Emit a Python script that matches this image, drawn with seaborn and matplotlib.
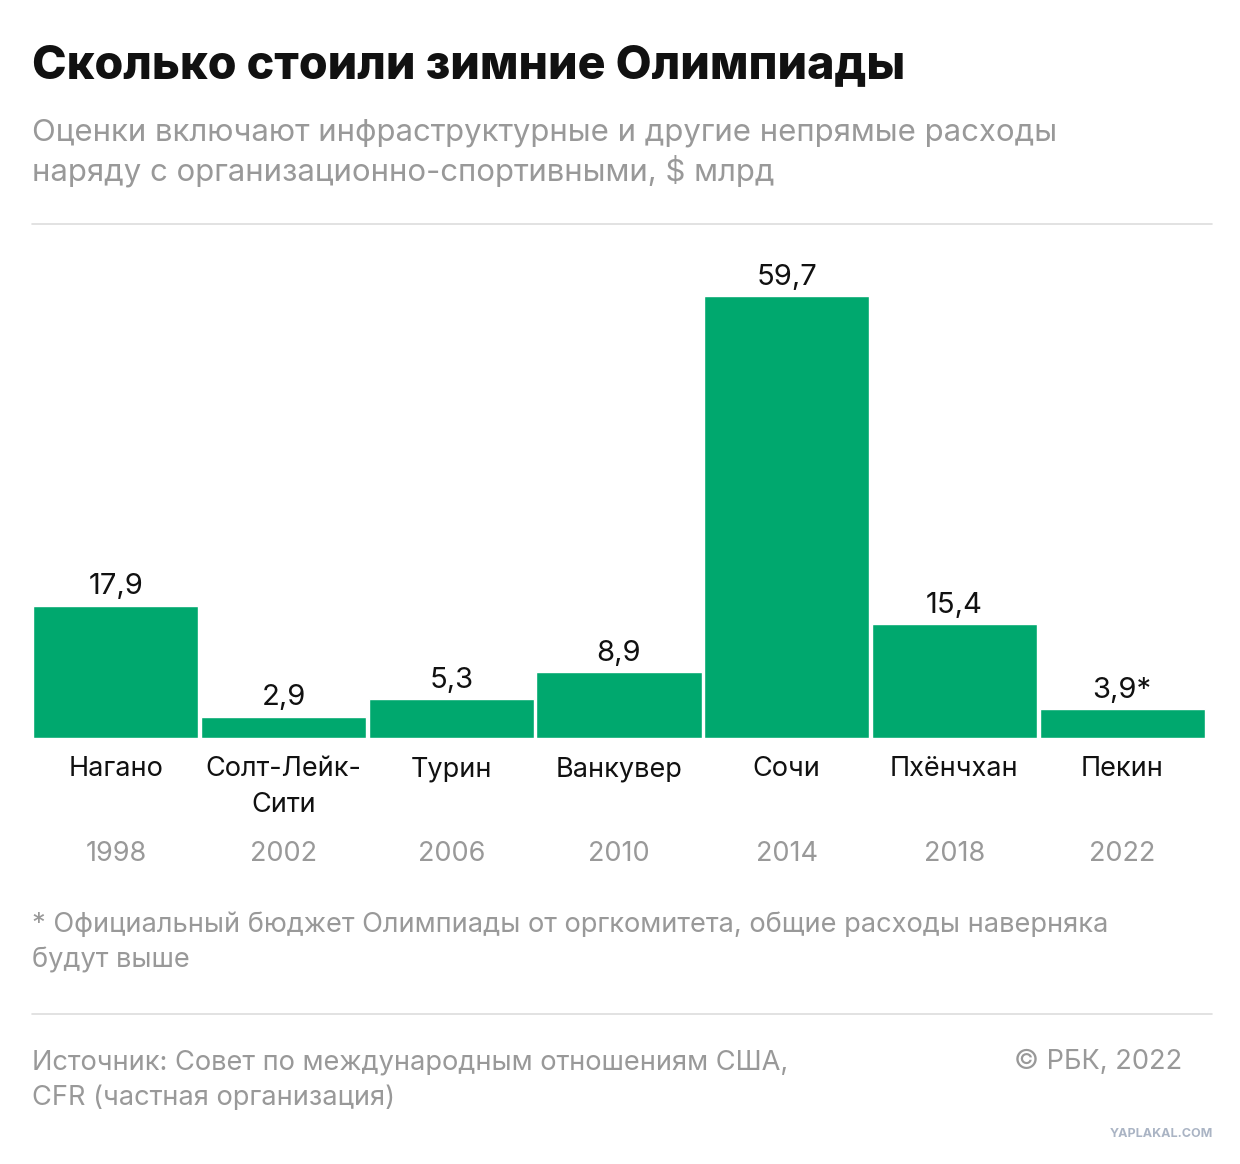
import matplotlib
matplotlib.use("Agg")
import matplotlib.pyplot as plt
import seaborn as sns
import pandas as pd
from matplotlib.lines import Line2D
import matplotlib.transforms as mtrans

cities = ["Нагано", "Солт-Лейк-\nСити", "Турин", "Ванкувер", "Сочи", "Пхёнчхан", "Пекин"]
years = ["1998", "2002", "2006", "2010", "2014", "2018", "2022"]
values = [17.9, 2.9, 5.3, 8.9, 59.7, 15.4, 3.9]
value_labels = ["17,9", "2,9", "5,3", "8,9", "59,7", "15,4", "3,9*"]

sns.set_theme(style="white")
plt.rcParams['font.family'] = ['Inter', 'DejaVu Sans']

W, H = 1240, 1164
fig = plt.figure(figsize=(W/100, H/100), dpi=100)
def fx(x): return x / W
def fy(y): return 1 - y / H

ax = fig.add_axes([fx(32), fy(738), fx(1206) - fx(32), fy(257) - fy(738)])
df = pd.DataFrame({"city": cities, "value": values})
sns.barplot(data=df, x="city", y="value", color="#00A86E", saturation=1, width=0.985, ax=ax)
ax.set_ylim(0, 65)
ax.set_xlim(-0.5, len(cities) - 0.5)
ax.axis("off")

for i, (v, lab) in enumerate(zip(values, value_labels)):
    ax.text(i, v + 0.7, lab, ha="center", va="bottom", fontsize=21, color="#111111")

tr = mtrans.blended_transform_factory(ax.transData, fig.transFigure)
for i, (c, y) in enumerate(zip(cities, years)):
    ax.text(i, fy(756), c, ha="center", va="top", fontsize=19.5, color="#111111",
            transform=tr, linespacing=1.5)
    ax.text(i, fy(854), y, ha="center", va="center", fontsize=19.5, color="#999999", transform=tr)

fig.text(fx(32), fy(66), "Сколько стоили зимние Олимпиады", fontsize=33.5, fontweight="heavy",
         color="#111111", va="center")
fig.text(fx(32), fy(153), "Оценки включают инфраструктурные и другие непрямые расходы\nнаряду с организационно-спортивными, $ млрд",
         fontsize=22.4, color="#999999", va="center", linespacing=1.3)
fig.text(fx(32), fy(943), "* Официальный бюджет Олимпиады от оргкомитета, общие расходы наверняка\nбудут выше",
         fontsize=19.6, color="#999999", va="center", linespacing=1.45)
fig.text(fx(32), fy(1080), "Источник: Совет по международным отношениям США,\nCFR (частная организация)",
         fontsize=19.6, color="#999999", va="center", linespacing=1.45)
fig.text(fx(1182), fy(1062), "© РБК, 2022", fontsize=19.6, color="#999999", va="center", ha="right")
fig.text(fx(1213), fy(1134), "YAPLAKAL.COM", fontsize=9, color="#aab4c4", fontweight="bold", va="center", ha="right")

for y in (224, 1014):
    fig.add_artist(Line2D([fx(32), fx(1212)], [fy(y), fy(y)], color="#dddddd", lw=1.2))

fig.savefig("out.png", dpi=100, facecolor="white")
